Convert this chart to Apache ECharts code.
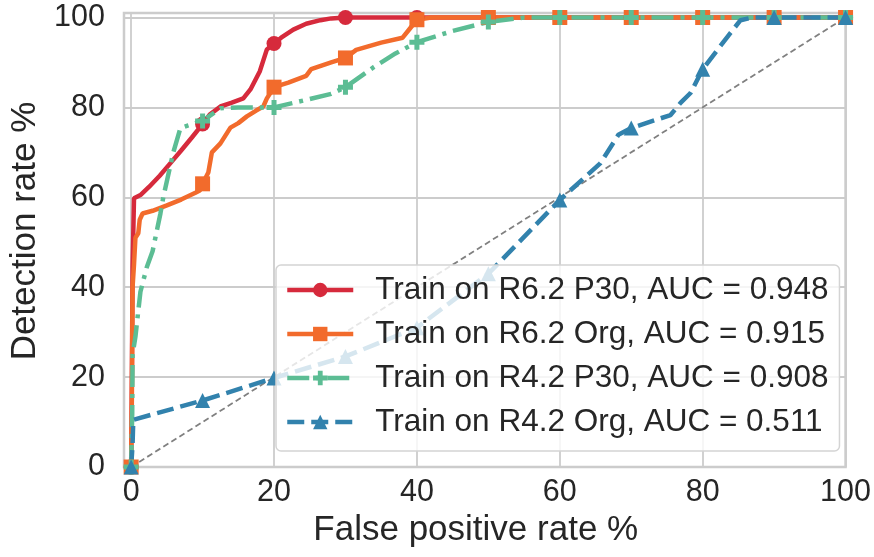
<!DOCTYPE html>
<html lang="en">
<head>
    <meta charset="UTF-8">
    <title>ROC curves</title>
    <style>
        html, body { margin: 0; padding: 0; background: #fff; }
        #main { width: 874px; height: 557px; }
    </style>
</head>
<body>
    <div id="main"></div>
    <script src="https://cdn.jsdelivr.net/npm/echarts@6.0.0/dist/echarts.min.js"></script>
    <script>
        // false positive rate / detection rate, in %
        const r62P30Fpr = [0, 0.1, 0.2, 0.4, 1.3, 2.5, 4, 5.5, 7, 8.5, 10, 11, 12.5, 14, 15.7, 16.7, 18, 19, 20, 21, 22.7, 24.5, 26.5, 28, 30, 40, 50, 60, 70, 80, 90, 100];
        const r62P30Tpr = [0, 20, 44.5, 59.8, 60.5, 62.3, 64.8, 67.6, 70.4, 73.3, 76.3, 78.4, 80.2, 81, 82, 84, 88, 92.9, 94.2, 95.5, 97.3, 98.6, 99.4, 99.8, 100, 100, 100, 100, 100, 100, 100, 100];

        const r62OrgFpr = [0, 0.1, 0.2, 0.4, 0.6, 1.0, 1.2, 1.6, 3, 5, 7, 9, 9.6, 10, 10.8, 11.3, 12.5, 13.9, 15, 16.2, 17.5, 18.5, 19, 20, 22, 24.5, 25.2, 28, 30, 31.5, 35, 38, 39, 40, 42, 50, 60, 70, 80, 90, 100];
        const r62OrgTpr = [0, 15, 40, 45, 51, 52, 55, 56.4, 57, 58.2, 59.5, 61, 61.5, 63, 65.5, 70, 72, 75.5, 76.5, 78, 79.3, 80.2, 82, 84.5, 85.5, 87, 88.5, 90, 91, 92.8, 94.4, 95.5, 97.5, 99.5, 100, 100, 100, 100, 100, 100, 100];

        const r42P30Fpr = [0, 0.15, 0.2, 0.6, 1.3, 2.2, 3, 4.1, 4.5, 5.9, 6.9, 8, 10, 12.5, 15, 20, 24.6, 28, 30, 34, 37, 40, 45, 50, 55, 60, 70, 80, 90, 100];
        const r42P30Tpr = [0, 12, 25, 29, 39, 44.5, 48, 56.4, 60, 70, 75.4, 76, 77, 79.8, 80, 80, 81.7, 83, 84.5, 89, 92, 94.5, 97, 99, 100, 100, 100, 100, 100, 100];

        const r42OrgFpr = [0, 0.2, 0.3, 10, 20, 30, 40, 50, 60, 65.7, 68.2, 70, 75.5, 76.9, 78.3, 80, 83.9, 85.3, 87, 90, 100];
        const r42OrgTpr = [0, 5, 10.5, 14.8, 19.8, 24.6, 31, 43, 59.4, 67.6, 73.9, 75.4, 78.3, 81, 83.2, 88.5, 96.6, 99.4, 100, 100, 100];

        const seriesNames = [
            'Train on R6.2 P30, AUC = 0.948',
            'Train on R6.2 Org, AUC = 0.915',
            'Train on R4.2 P30, AUC = 0.908',
            'Train on R4.2 Org, AUC = 0.511'
        ];
        // markers are drawn every 10% of FPR
        const markerFpr = [0, 10, 20, 30, 40, 50, 60, 70, 80, 90, 100];
        const chanceLine = [[0, 0], [100, 100]];

        const textColor = '#262626';
        const fontFamily = "'Liberation Sans', Arial, sans-serif";
        const plusPath = 'path://M2,0H4V2H6V4H4V6H2V4H0V2H2Z';

        function buildData(xs, ys) {
            return xs.map((x, i) => markerFpr.includes(x)
                ? [x, ys[i]]
                : { value: [x, ys[i]], symbol: 'none' });
        }

        function curve(name, xs, ys, color, symbol, lineType) {
            return {
                name: name,
                type: 'line',
                data: buildData(xs, ys),
                symbol: symbol,
                symbolSize: 15,
                showAllSymbol: true,
                color: color,
                itemStyle: { color: color, borderWidth: 0 },
                lineStyle: { color: color, width: 4.5, type: lineType },
                emphasis: { disabled: true },
                z: 3
            };
        }

        const myChart = echarts.init(document.getElementById('main'));
        const option = {
            animation: false,
            backgroundColor: '#ffffff',
            textStyle: { fontFamily: fontFamily, color: textColor },
            grid: {
                left: 124, right: 28, top: 13, bottom: 90,
                show: true,
                borderColor: '#cccccc',
                borderWidth: 2.5,
                backgroundColor: 'transparent'
            },
            legend: {
                orient: 'vertical',
                left: 276,
                top: 265,
                data: seriesNames,
                itemWidth: 66,
                itemHeight: 18,
                itemGap: 12,
                padding: [9, 11, 13, 9],
                backgroundColor: 'rgba(255,255,255,0.8)',
                borderColor: '#d4d4d4',
                borderWidth: 1.5,
                borderRadius: 5,
                lineStyle: { width: 4.5 },
                textStyle: {
                    fontFamily: fontFamily,
                    fontSize: 31.5,
                    color: textColor,
                    padding: [0, 0, 0, 17]
                }
            },
            xAxis: {
                type: 'value',
                min: -1,
                max: 100,
                splitNumber: 5,
                name: 'False positive rate %',
                nameLocation: 'middle',
                nameGap: 40,
                nameTextStyle: {
                    fontFamily: fontFamily, fontSize: 35, color: textColor,
                    padding: [0, 18, 0, 0]
                },
                axisLine: { show: false },
                axisTick: { show: false },
                axisLabel: {
                    fontFamily: fontFamily, fontSize: 30.5, color: textColor,
                    margin: 10, showMinLabel: false
                },
                splitLine: { show: true, lineStyle: { color: '#cccccc', width: 1.8 } }
            },
            yAxis: {
                type: 'value',
                min: 0,
                max: 101,
                splitNumber: 5,
                name: 'Detection rate %',
                nameLocation: 'middle',
                nameGap: 78,
                nameTextStyle: {
                    fontFamily: fontFamily, fontSize: 35, color: textColor,
                    padding: [0, 0, 0, 18]
                },
                axisLine: { show: false },
                axisTick: { show: false },
                axisLabel: {
                    fontFamily: fontFamily, fontSize: 30.5, color: textColor,
                    margin: 19, showMaxLabel: false
                },
                splitLine: { show: true, lineStyle: { color: '#cccccc', width: 1.8 } }
            },
            series: [
                curve(seriesNames[0], r62P30Fpr, r62P30Tpr, '#d62a3c', 'circle', 'solid'),
                curve(seriesNames[1], r62OrgFpr, r62OrgTpr, '#f26b2c', 'rect', 'solid'),
                curve(seriesNames[2], r42P30Fpr, r42P30Tpr, '#5cbd94', plusPath, [22, 7, 4, 7]),
                curve(seriesNames[3], r42OrgFpr, r42OrgTpr, '#3282ad', 'triangle', [17, 7]),
                {
                    name: 'chance',
                    type: 'line',
                    data: chanceLine,
                    symbol: 'none',
                    silent: true,
                    lineStyle: { color: '#808080', width: 1.8, type: [6, 3.5] },
                    z: 2
                }
            ]
        };
        myChart.setOption(option);
    </script>
</body>
</html>
